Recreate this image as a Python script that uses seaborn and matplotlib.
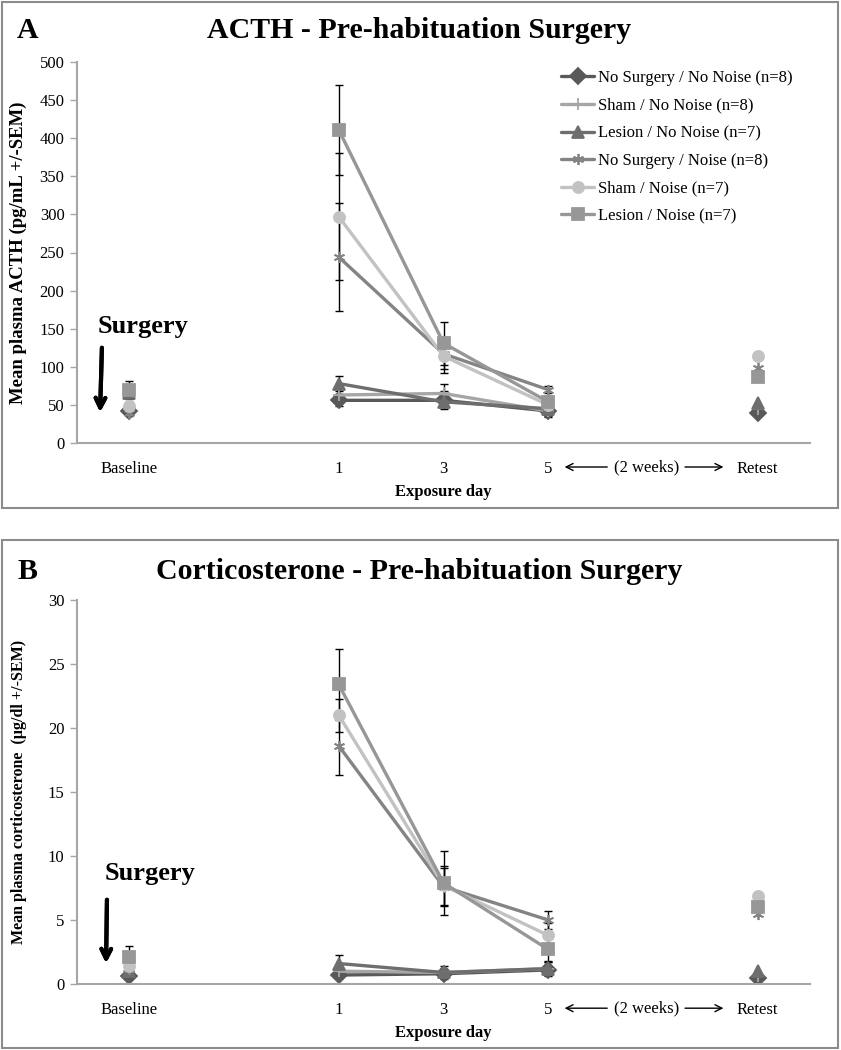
import numpy as np
import pandas as pd
import seaborn as sns
import matplotlib.pyplot as plt
from matplotlib.lines import Line2D
from matplotlib.patches import Rectangle

# ---------------------------------------------------------------- data ---- #
categories = ['Baseline', '', '1', '3', '5', '', 'Retest']
days = ['Baseline', '1', '3', '5', 'Retest']
segments = ['pre', 'exp', 'exp', 'exp', 'post']

groups = ['No Surgery / No Noise (n=8)', 'Sham / No Noise (n=8)',
          'Lesion / No Noise (n=7)', 'No Surgery / Noise (n=8)',
          'Sham / Noise (n=7)', 'Lesion / Noise (n=7)']
colors = ['#595959', '#a6a6a6', '#6e6e6e', '#848484', '#c2c2c2', '#979797']
markers = ['D', '+', '^', (6, 2, 0), 'o', 's']

# ACTH (pg/mL), order: Baseline, 1, 3, 5, Retest
acth_mean = [[42, 56, 56, 42, 39],
             [44, 63, 65, 42, 45],
             [66, 78, 54, 45, 52],
             [40, 244, 117, 70, 98],
             [48, 297, 114, 50, 114],
             [70, 411, 131, 54, 87]]
acth_sem = [[5, 8, 12, 8, np.nan],
            [5, 8, 13, 6, np.nan],
            [8, 10, 7, 6, np.nan],
            [5, 71, 20, 5, np.nan],
            [6, 83, 22, 6, np.nan],
            [11, 59, 28, 8, np.nan]]

# corticosterone (ug/dl)
cort_mean = [[0.6, 0.7, 0.8, 1.1, 0.5],
             [1.0, 1.0, 0.9, 1.2, 0.6],
             [1.0, 1.6, 0.9, 1.2, 1.0],
             [1.2, 18.6, 7.6, 5.0, 5.5],
             [1.4, 21.0, 7.7, 3.8, 6.9],
             [2.1, 23.4, 7.9, 2.7, 6.0]]
cort_sem = [[0.2, 0.2, 0.2, 0.3, np.nan],
            [0.3, 0.3, 0.3, 0.5, np.nan],
            [0.4, 0.7, 0.5, 0.6, np.nan],
            [0.4, 2.3, 1.5, 0.7, np.nan],
            [0.5, 1.3, 1.5, 1.0, np.nan],
            [0.9, 2.8, 2.5, 1.0, np.nan]]


def make_df(means, sems):
    rows = []
    for g, mm, ss in zip(groups, means, sems):
        for d, seg, m, s in zip(days, segments, mm, ss):
            rows.append(dict(group=g, pos=categories.index(d), seg=seg, value=m, err=s))
    return pd.DataFrame(rows)


W, H = 841, 1050
fx = lambda x: x / W
fy = lambda y: 1 - y / H

sns.set_style('white')
plt.rcParams['font.family'] = ['Liberation Serif', 'DejaVu Serif']
plt.rcParams['text.color'] = 'black'
plt.rcParams['axes.labelcolor'] = 'black'
plt.rcParams['xtick.labelcolor'] = 'black'
plt.rcParams['ytick.labelcolor'] = 'black'

fig = plt.figure(figsize=(W / 100, H / 100), dpi=100)

# outer frames of the two panels
for top, bot in [(2, 508), (540, 1048)]:
    fig.patches.append(Rectangle((fx(2), fy(bot)), fx(836), (bot - top) / H,
                                 transform=fig.transFigure, fill=False,
                                 edgecolor='#8c8c8c', lw=1.5))

ax_a = fig.add_axes([fx(77), fy(443), fx(733), 381 / H])
ax_b = fig.add_axes([fx(77), fy(984), fx(733), 384 / H])


def draw_panel(ax, df, ymax, ystep, ylabel, ylabel_size):
    for g, c, m in zip(groups, colors, markers):
        sub = df[df.group == g]
        sns.lineplot(data=sub, x='pos', y='value', units='seg', estimator=None,
                     color=c, marker=m, markersize=8, lw=2.4, mec=c, mew=1.3,
                     legend=False, ax=ax)
    for g in groups:
        sub = df[(df.group == g)].dropna(subset=['err'])
        ax.errorbar(sub['pos'], sub['value'], yerr=sub['err'], fmt='none', ecolor='black',
                    elinewidth=1, capsize=3.2, capthick=1, zorder=1.9)

    ax.set_xlim(-0.5, 6.5)
    ax.set_ylim(0, ymax)
    ax.set_yticks(np.arange(0, ymax + ystep / 2, ystep))
    ax.set_xticks(range(len(categories)))
    ax.set_xticklabels(categories)
    ax.tick_params(axis='x', length=0, pad=13, labelsize=12)
    ax.tick_params(axis='y', length=5, width=1, color='#a6a6a6', direction='out',
                   pad=4, labelsize=12, left=True)
    for s in ['top', 'right']:
        ax.spines[s].set_visible(False)
    for s in ['left', 'bottom']:
        ax.spines[s].set_color('#a6a6a6')
        ax.spines[s].set_linewidth(1.5)

    ax.set_xlabel('Exposure day', fontsize=12, fontweight='bold')
    ax.xaxis.set_label_coords(0.5, -0.108)
    ax.set_ylabel(ylabel, fontsize=ylabel_size, fontweight='bold')
    ax.yaxis.set_label_coords(-0.068, 0.5)

    # "<-- (2 weeks) -->" between day 5 and Retest
    tr = ax.get_xaxis_transform()
    ax.text(4.94, -0.063, '(2 weeks)', transform=tr, ha='center', va='center',
            fontsize=12)
    for x0, x1 in [(4.59, 4.13), (5.28, 5.70)]:
        ax.annotate('', xy=(x1, -0.063), xytext=(x0, -0.063), xycoords=tr,
                    textcoords=tr, annotation_clip=False,
                    arrowprops=dict(arrowstyle='->,head_length=0.5,head_width=0.25',
                                    lw=1, color='black'))


draw_panel(ax_a, make_df(acth_mean, acth_sem), 500, 50,
           'Mean plasma ACTH (pg/mL +/-SEM)', 13.5)
draw_panel(ax_b, make_df(cort_mean, cort_sem), 30, 5,
           'Mean plasma corticosterone  (\u00b5g/dl +/-SEM)', 11.5)

# legend (panel A only)
handles = [Line2D([], [], color=c, marker=m, lw=2.4, markersize=8, mec=c, mew=1.3)
           for c, m in zip(colors, markers)]
ax_a.legend(handles, groups, loc='upper left', bbox_to_anchor=(fx(561), fy(70)),
            bbox_transform=fig.transFigure, frameon=False, fontsize=12,
            handlelength=2.0, handletextpad=0.2, labelspacing=0.7,
            borderaxespad=0, borderpad=0)

# titles and panel letters
for letter, title, base in [('A', 'ACTH - Pre-habituation Surgery', 38),
                            ('B', 'Corticosterone - Pre-habituation Surgery', 579)]:
    fig.text(fx(17), fy(base), letter, fontsize=21.5, fontweight='bold', va='baseline')
    fig.text(fx(419), fy(base), title, fontsize=21.5, fontweight='bold',
             ha='center', va='baseline')

# "Surgery" with arrow
for tx, ty, a0, a1 in [(98, 333, (102, 345), (100, 415)),
                       (105, 880, (107, 897), (106, 966))]:
    fig.text(fx(tx), fy(ty), 'Surgery', fontsize=19, fontweight='bold', va='baseline')
    fig.add_artist(plt.annotate('', xy=(fx(a1[0]), fy(a1[1])),
                                xytext=(fx(a0[0]), fy(a0[1])),
                                xycoords='figure fraction', textcoords='figure fraction',
                                arrowprops=dict(arrowstyle='->,head_length=0.7,head_width=0.35',
                                                lw=3, color='black')))

fig.savefig('out.png', dpi=100)
